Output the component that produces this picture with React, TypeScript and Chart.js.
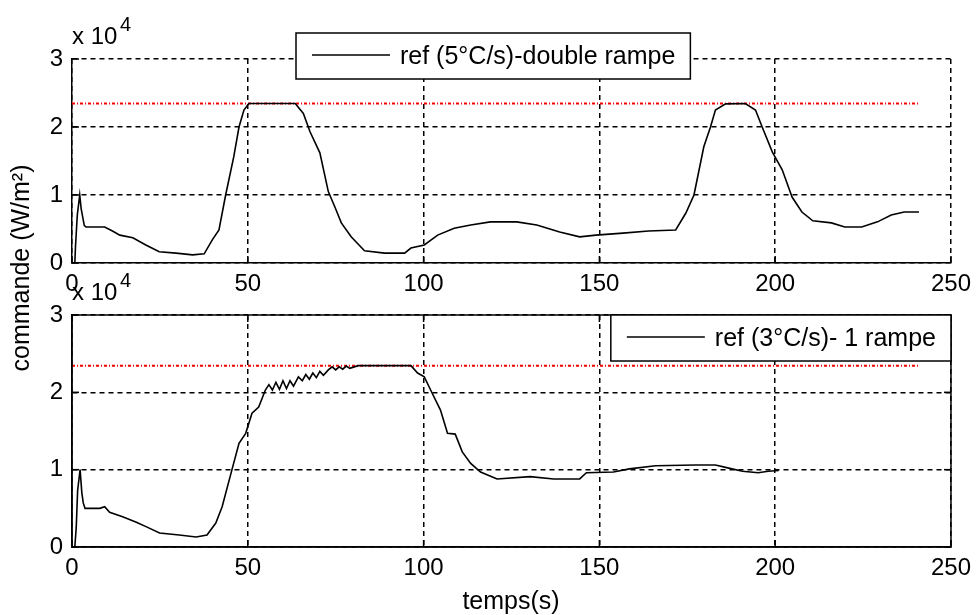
import { useEffect, useRef } from 'react';
import { Chart, registerables } from 'chart.js';

Chart.register(...registerables);

// ---------- data ----------
const topTime = [
  0, 0.8, 1.0, 1.5, 2.2, 2.6, 3.5, 4.0, 9.3, 11.5, 13.6, 17.3, 21.0, 24.8, 29.6, 34.3, 37.6,
  39.9, 41.8, 43.7, 46.0, 47.5, 48.9, 50.3, 63.5, 65.8, 67.7, 70.5, 72.9, 74.8, 76.6, 79.4,
  83.2, 88.9, 94.6, 96.4, 100.2, 104.0, 108.7, 113.4, 119.0, 126.5, 132.2, 138.7, 144.4,
  149.0, 156.7, 164.0, 171.7, 174.6, 176.9, 179.7, 181.6, 183.0, 185.9, 191.5, 194.4, 196.3,
  199.2, 202.0, 204.8, 207.6, 210.7, 216.0, 219.8, 224.6, 229.1, 233.0, 236.7, 240.9,
];
const topCommand = [
  0, 0, 2500, 7000, 10000, 8000, 5500, 5300, 5300, 4700, 4100, 3700, 2650, 1650, 1450, 1200, 1350,
  3400, 4850, 10000, 15600, 20000, 22500, 23450, 23450, 22000, 19300, 16200, 10500, 8200, 5900, 3850,
  1800, 1450, 1450, 2200, 2650, 4100, 5100, 5600, 6050, 6050, 5600, 4550, 3850,
  4100, 4400, 4700, 4850, 7350, 10000, 17100, 20000, 22500, 23400, 23450, 22500, 20000,
  16300, 13700, 9700, 7500, 6200, 5900, 5300, 5300, 6050, 7050, 7500, 7500,
];

const bottomTime = [
  0, 0.8, 1.2, 1.6, 2.3, 2.8, 3.2, 3.7, 7.9, 9.3, 10.7, 14.4, 18.3, 21.2, 24.9, 30.5, 35.3, 38.4,
  40.9, 42.7, 45.5, 47.5, 49.4, 51.2, 53.1, 55.0, 56.0, 57.0, 58.0, 59.0, 60.0, 61.0, 62.0, 63.0,
  64.4, 65.5, 66.5, 67.5, 68.5, 69.5, 70.5, 71.5, 72.9, 74.0, 75.0, 76.0, 77.0, 78.0, 79.0, 81.4,
  96.4, 98.3, 100.2, 102.0, 104.8, 106.8, 109.0, 111.0, 113.4, 116.2, 120.9, 130.3, 137.0, 144.4,
  146.3, 154.0, 158.5, 166.0, 177.4, 183.0, 186.8, 190.7, 195.2, 198.0, 201.0,
];
const bottomCommand = [
  0, 0, 2500, 7300, 10000, 7000, 5700, 5000, 5000, 5200, 4500, 3900, 3200, 2600, 1800, 1550, 1300, 1550,
  3100, 5200, 10000, 13400, 14700, 17300, 18100, 20300, 21000, 20300, 21300, 20400, 21500, 20500, 21500, 20800,
  22000, 21500, 22300, 21700, 22500, 21900, 22700, 22200, 22900, 23300, 22900, 23300, 23000, 23400, 23100, 23450,
  23450, 22500, 22000, 20300, 17700, 14700, 14600, 12300, 10800, 9700, 8800, 9100, 8800, 8800,
  9600, 9700, 10100, 10500, 10600, 10600, 10200, 9800, 9600, 9800, 9900,
];

const refLevel = 23450;
const refStart = 0;
const refEnd = 241;

const xMin = 0;
const xMax = 250;
const xStep = 50;
const yMin = 0;
const yMax = 30000;
const yStep = 10000;
const yScaleFactor = 10000;

const topLegend = 'ref (5°C/s)-double rampe';
const bottomLegend = 'ref (3°C/s)- 1 rampe';
const refLabel = 'consigne';
const xTitle = 'temps(s)';
const yTitle = 'commande (W/m²)';
const multiplierBase = 'x 10';
const multiplierExp = '4';

const FONT = "'Liberation Sans', Arial, Helvetica, sans-serif";

type Panel = {
  time: number[];
  values: number[];
  legend: string;
  padTop: number;
  padBottom: number;
  box: boolean;
  legendPos: 'fixed' | 'right';
  showYTitle: boolean;
  showXTitle: boolean;
};

const decorPlugin = {
  id: 'matlabDecor',
  afterDraw(chart: any, _args: any, opts: any) {
    const { ctx, chartArea: a, scales } = chart;
    const line = (x1: number, y1: number, x2: number, y2: number) => {
      ctx.beginPath();
      ctx.moveTo(x1, y1);
      ctx.lineTo(x2, y2);
      ctx.stroke();
    };
    ctx.save();
    ctx.setLineDash([]);
    ctx.strokeStyle = '#000';
    ctx.lineWidth = 1.5;
    const tl = 7;
    scales.x.ticks.forEach((t: any) => {
      const px = scales.x.getPixelForValue(t.value);
      line(px, a.bottom, px, a.bottom - tl);
      if (opts.box) line(px, a.top, px, a.top + tl);
    });
    scales.y.ticks.forEach((t: any) => {
      const py = scales.y.getPixelForValue(t.value);
      line(a.left, py, a.left + tl, py);
      if (opts.box) line(a.right, py, a.right - tl, py);
    });
    if (opts.box) ctx.strokeRect(a.left, a.top, a.right - a.left, a.bottom - a.top);

    // multiplier
    ctx.fillStyle = '#000';
    ctx.textAlign = 'left';
    ctx.textBaseline = 'middle';
    ctx.font = `24px ${FONT}`;
    ctx.fillText(multiplierBase, a.left, a.top - 22);
    ctx.font = `20px ${FONT}`;
    ctx.fillText(multiplierExp, a.left + 48, a.top - 34);

    // legend
    const label = chart.data.datasets[0].label;
    ctx.font = `25px ${FONT}`;
    const tw = ctx.measureText(label).width;
    const bw = 104 + tw + 15;
    const bh = 46;
    let bx: number, by: number;
    if (opts.legendPos === 'right') {
      bx = a.right - bw;
      by = a.top;
    } else {
      bx = 296;
      by = 33;
    }
    ctx.fillStyle = '#fff';
    ctx.fillRect(bx, by, bw, bh);
    ctx.strokeStyle = '#000';
    ctx.lineWidth = 1.5;
    ctx.strokeRect(bx, by, bw, bh);
    ctx.lineWidth = 1.5;
    line(bx + 16, by + bh / 2 - 1, bx + 94, by + bh / 2 - 1);
    ctx.fillStyle = '#000';
    ctx.fillText(label, bx + 104, by + bh / 2 + 1);

    // titles
    if (opts.yTitle) {
      ctx.save();
      ctx.translate(22, 268);
      ctx.rotate(-Math.PI / 2);
      ctx.textAlign = 'center';
      ctx.font = `25px ${FONT}`;
      ctx.fillText(yTitle, 0, 0);
      ctx.restore();
    }
    if (opts.xTitle) {
      ctx.textAlign = 'center';
      ctx.font = `25px ${FONT}`;
      ctx.fillText(xTitle, 511, 602);
    }
    ctx.restore();
  },
};

function buildConfig(p: Panel): any {
  const series = p.time.map((t, i) => ({ x: t, y: p.values[i] }));
  return {
    type: 'line',
    data: {
      datasets: [
        {
          label: p.legend,
          data: series,
          borderColor: '#000',
          borderWidth: 1.6,
          pointRadius: 0,
          tension: 0,
          fill: false,
        },
        {
          label: refLabel,
          data: [
            { x: refStart, y: refLevel },
            { x: refEnd, y: refLevel },
          ],
          borderColor: '#ff0000',
          borderWidth: 2,
          borderDash: [3, 2, 1, 2],
          pointRadius: 0,
          fill: false,
        },
      ],
    },
    options: {
      animation: false,
      responsive: false,
      events: [],
      layout: { padding: { left: 0, right: 21, top: p.padTop, bottom: p.padBottom } },
      plugins: {
        legend: { display: false },
        tooltip: { enabled: false },
        matlabDecor: {
          box: p.box,
          legendPos: p.legendPos,
          yTitle: p.showYTitle,
          xTitle: p.showXTitle,
        },
      },
      scales: {
        x: {
          type: 'linear',
          min: xMin,
          max: xMax,
          afterFit: (s: any) => {
            s.height = 30;
          },
          ticks: {
            stepSize: xStep,
            color: '#000',
            font: { family: FONT, size: 24 },
            padding: 7,
            maxRotation: 0,
            autoSkip: false,
          },
          grid: { color: '#000', lineWidth: 1.5, drawTicks: false },
          border: { display: true, color: '#000', width: 1.5, dash: [5, 4] },
        },
        y: {
          type: 'linear',
          min: yMin,
          max: yMax,
          afterFit: (s: any) => {
            s.width = 72;
          },
          ticks: {
            stepSize: yStep,
            color: '#000',
            font: { family: FONT, size: 24 },
            padding: 9,
            callback: (v: number) => String(v / yScaleFactor),
          },
          grid: { color: '#000', lineWidth: 1.5, drawTicks: false },
          border: { display: true, color: '#000', width: 1.5, dash: [5, 4] },
        },
      },
    },
    plugins: [decorPlugin],
  };
}

export default function App() {
  const topRef = useRef<HTMLCanvasElement>(null);
  const bottomRef = useRef<HTMLCanvasElement>(null);

  useEffect(() => {
    const top = new Chart(
      topRef.current as HTMLCanvasElement,
      buildConfig({
        time: topTime,
        values: topCommand,
        legend: topLegend,
        padTop: 59,
        padBottom: 322,
        box: false,
        legendPos: 'fixed',
        showYTitle: true,
        showXTitle: false,
      })
    );
    const bottom = new Chart(
      bottomRef.current as HTMLCanvasElement,
      buildConfig({
        time: bottomTime,
        values: bottomCommand,
        legend: bottomLegend,
        padTop: 315,
        padBottom: 38,
        box: true,
        legendPos: 'right',
        showYTitle: false,
        showXTitle: true,
      })
    );
    return () => {
      top.destroy();
      bottom.destroy();
    };
  }, []);

  const canvasStyle: any = { position: 'absolute', left: 0, top: 0, width: 978, height: 615 };
  return (
    <div style={{ position: 'absolute', left: 0, top: 0, width: 978, height: 615, background: '#fff' }}>
      <canvas ref={topRef} width={978} height={615} style={canvasStyle} />
      <canvas ref={bottomRef} width={978} height={615} style={canvasStyle} />
    </div>
  );
}
